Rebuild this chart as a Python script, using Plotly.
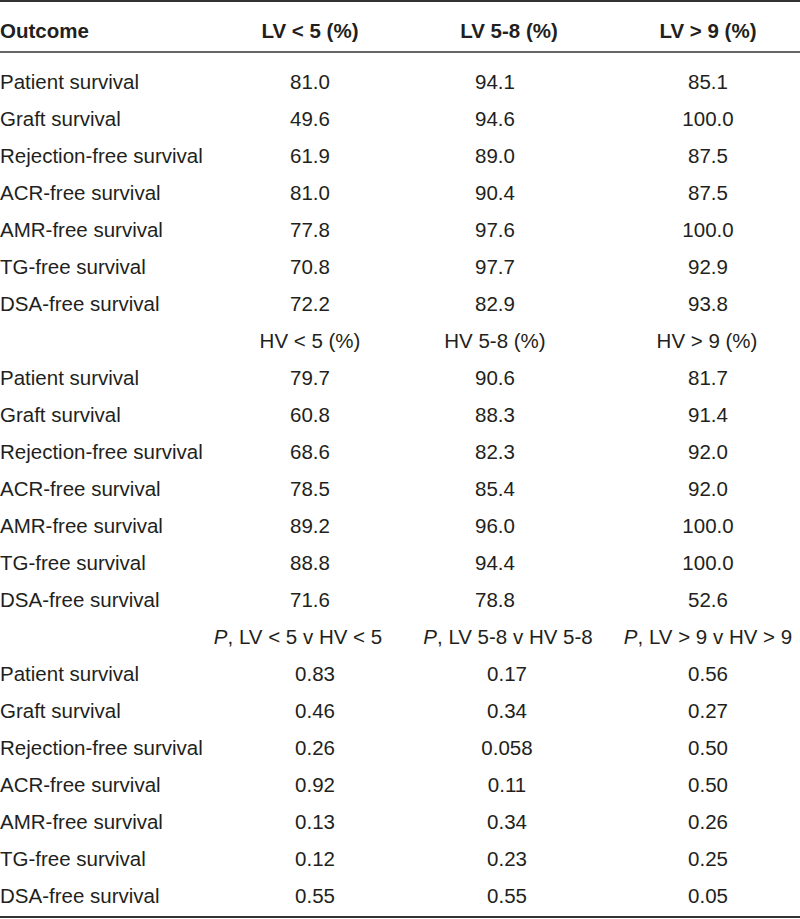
import plotly.graph_objects as go

outcomes = ["Patient survival", "Graft survival", "Rejection-free survival",
            "ACR-free survival", "AMR-free survival", "TG-free survival",
            "DSA-free survival"]

header = ["Outcome", "LV &lt; 5 (%)", "LV 5-8 (%)", "LV &gt; 9 (%)"]
lv_lt5 = ["81.0", "49.6", "61.9", "81.0", "77.8", "70.8", "72.2"]
lv_5_8 = ["94.1", "94.6", "89.0", "90.4", "97.6", "97.7", "82.9"]
lv_gt9 = ["85.1", "100.0", "87.5", "87.5", "100.0", "92.9", "93.8"]

hv_header = ["HV &lt; 5 (%)", "HV 5-8 (%)", "HV &gt; 9 (%)"]
hv_lt5 = ["79.7", "60.8", "68.6", "78.5", "89.2", "88.8", "71.6"]
hv_5_8 = ["90.6", "88.3", "82.3", "85.4", "96.0", "94.4", "78.8"]
hv_gt9 = ["81.7", "91.4", "92.0", "92.0", "100.0", "100.0", "52.6"]

p_header = ["<i>P</i>, LV &lt; 5 v HV &lt; 5", "<i>P</i>, LV 5-8 v HV 5-8",
            "<i>P</i>, LV &gt; 9 v HV &gt; 9"]
p_lt5 = ["0.83", "0.46", "0.26", "0.92", "0.13", "0.12", "0.55"]
p_5_8 = ["0.17", "0.34", "0.058", "0.11", "0.34", "0.23", "0.55"]
p_gt9 = ["0.56", "0.27", "0.50", "0.50", "0.26", "0.25", "0.05"]

FONT = "Liberation Sans, Arial, sans-serif"
COLOR = "#231f20"
SIZE = 20.5

W, H = 800, 919
ROW0 = 84.0
STEP = 37.0

fig = go.Figure()

def add_text(xs, ys, texts, pos):
    fig.add_trace(go.Scatter(
        x=xs, y=ys, text=texts, mode="text", textposition=pos,
        textfont=dict(family=FONT, size=SIZE, color=COLOR),
        hoverinfo="skip", showlegend=False, cliponaxis=False))

# Header row
add_text([0], [33], [f"<b>{header[0]}</b>"], "middle right")
add_text([310, 509, 708], [33, 33, 33], [f"<b>{h}</b>" for h in header[1:]], "middle center")

sections = [
    (None, [lv_lt5, lv_5_8, lv_gt9], None, [310, 495, 708]),
    (hv_header, [hv_lt5, hv_5_8, hv_gt9], [310, 495, 707], [310, 495, 708]),
    (p_header, [p_lt5, p_5_8, p_gt9], [298, 508, 708], [315, 507, 708]),
]

row = 0
for sub_header, cols, hx, vx in sections:
    if sub_header is not None:
        y = ROW0 + row * STEP
        add_text(hx, [y] * 3, sub_header, "middle center")
        row += 1
    ys = [ROW0 + (row + i) * STEP for i in range(len(outcomes))]
    add_text([0] * len(outcomes), ys, outcomes, "middle right")
    for cx, vals in zip(vx, cols):
        add_text([cx] * len(vals), ys, vals, "middle center")
    row += len(outcomes)

line_col = "#333333"
fig.add_shape(type="line", x0=0, x1=W, y0=1, y1=1, line=dict(color=line_col, width=2))
fig.add_shape(type="line", x0=0, x1=W, y0=52, y1=52, line=dict(color=line_col, width=1.5))
fig.add_shape(type="line", x0=0, x1=W, y0=917, y1=917, line=dict(color=line_col, width=2))

fig.update_layout(
    width=W, height=H, margin=dict(l=0, r=0, t=0, b=0),
    paper_bgcolor="white", plot_bgcolor="white",
    xaxis=dict(range=[0, W], visible=False, fixedrange=True),
    yaxis=dict(range=[H, 0], visible=False, fixedrange=True),
)

fig.write_html("out.html", post_script="document.body.style.margin='0';",
               config={"displayModeBar": False})
